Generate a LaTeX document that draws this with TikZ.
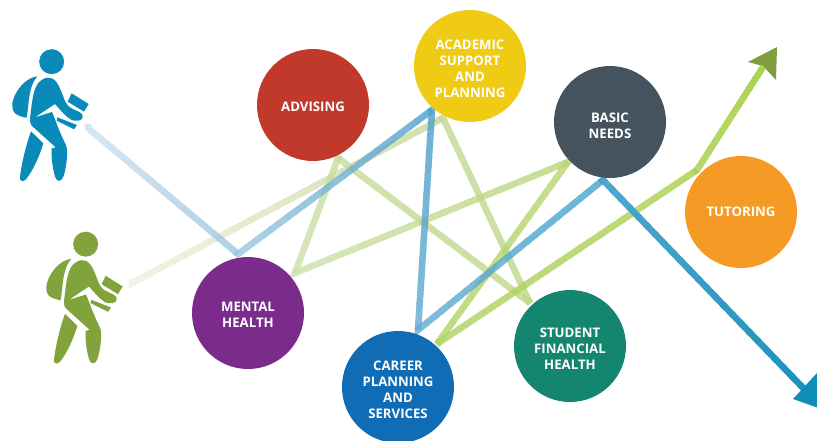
\documentclass[tikz,border=0pt]{standalone}
\usepackage{fontspec}
\setmainfont{Open Sans}
\usetikzlibrary{calc}
\definecolor{cRed}{HTML}{C0392B}
\definecolor{cYel}{HTML}{F0CB13}
\definecolor{cSla}{HTML}{44535E}
\definecolor{cOra}{HTML}{F59B25}
\definecolor{cPur}{HTML}{7B2B8C}
\definecolor{cBlu}{HTML}{0F6CB5}
\definecolor{cTea}{HTML}{14866F}
\definecolor{walkB}{HTML}{0A8AB8}
\definecolor{walkG}{HTML}{81A33C}
\definecolor{tipG}{HTML}{7F9F3F}
\tikzset{
  topic/.style={circle,minimum size=112pt,inner sep=0pt},
  topictext/.style={text=white,align=center,inner sep=0pt,
    font=\bfseries\fontsize{13.2}{16}\selectfont},
  pathline/.style={line width=6.5pt,line cap=butt},
}
\newcommand{\walker}[3]{%
  \begin{scope}[shift={(#2,#3)},x=.3333pt,y=-.3333pt,fill=#1]
    \fill (155,95) circle[radius=12.5pt];
    \fill (112,139) .. controls (85,142) and (60,165) .. (45,195) .. controls (35,215) and (33,240) .. (45,250) .. controls (55,258) and (70,262) .. (80,263) .. controls (85,235) and (85,200) .. (95,170) .. controls (100,155) and (105,147) .. (112,139) -- cycle;
    \fill (145,143) .. controls (165,143) and (175,160) .. (190,200) .. controls (197,222) and (205,232) .. (225,240) .. controls (240,246) and (250,252) .. (248,262) .. controls (246,272) and (230,275) .. (215,270) .. controls (200,262) and (185,245) .. (165,222) -- (105,262) -- (156,246) .. controls (165,265) and (175,300) .. (198,345) .. controls (206,365) and (198,420) .. (190,440) .. controls (185,455) and (170,458) .. (165,440) .. controls (157,410) and (153,380) .. (155,355) -- (167,352) -- (95,287) .. controls (88,278) and (90,265) .. (92,250) .. controls (97,210) and (100,165) .. (125,150) .. controls (132,145) and (138,143) .. (145,143) -- cycle;
    \fill (93,304) -- (130,340) .. controls (118,380) and (100,420) .. (78,448) .. controls (70,456) and (58,455) .. (60,440) .. controls (65,400) and (78,345) .. (93,304) -- cycle;
    \fill (215,190) -- (266,222) -- (252,245) -- (203,215) -- cycle;
    \fill (172,262) -- (231,285) -- (222,298) -- (170,272) -- cycle;
  \end{scope}}
% #1 previous point, #2 from, #3 to, #4 start colour, #5 end colour, #6 opacity
\newcommand{\lineseg}[6]{%
  \begin{scope}[opacity=#6,transparency group]
    \foreach \k in {1,...,24}{
      \pgfmathsetmacro\ta{(\k-1)/24}
      \pgfmathsetmacro\tb{min(1,(\k+.3)/24)}
      \pgfmathsetmacro\pc{100*(\k-.5)/24}
      \draw[pathline,color={#5!\pc!#4}] ($(#2)!\ta!(#3)$) -- ($(#2)!\tb!(#3)$);
    }
    \draw[pathline,miter limit=4,color=#4] ($(#2)!4pt!(#1)$) -- (#2) -- ($(#2)!4pt!(#3)$);
  \end{scope}}
\begin{document}
\begin{tikzpicture}[x=1pt,y=-1pt]
\useasboundingbox (0,0) rectangle (817,440);
\clip (0,0) rectangle (817,440);
\fill[white] (0,0) rectangle (817,440);

\coordinate (g0) at (132,283);
\coordinate (g1) at (443,118);
\coordinate (g2) at (530,303);
\coordinate (g3) at (338,158);
\coordinate (g4) at (295,273);
\coordinate (g5) at (568,162);
\coordinate (g6) at (437,344);
\coordinate (g7) at (697,170);
\coordinate (g8) at (763,67);
\coordinate (b0) at (88,128);
\coordinate (b1) at (238,254);
\coordinate (b2) at (432,110);
\coordinate (b3) at (418,330);
\coordinate (b4) at (603,180);
\coordinate (b5) at (808,393);

\definecolor{g0c}{HTML}{EEF1E0}
\definecolor{g1c}{HTML}{C3D896}
\definecolor{g2c}{HTML}{BED788}
\definecolor{g3c}{HTML}{C8DC9C}
\definecolor{g4c}{HTML}{CEE0AB}
\definecolor{g5c}{HTML}{B8D677}
\definecolor{g6c}{HTML}{B0D363}
\definecolor{g7c}{HTML}{A8D04A}
\definecolor{g8c}{HTML}{97C827}
\definecolor{b0c}{HTML}{CCE1ED}
\definecolor{b1c}{HTML}{9BC7E0}
\definecolor{b2c}{HTML}{4B9FCA}
\definecolor{b3c}{HTML}{60ABD1}
\definecolor{b4c}{HTML}{46A3CB}
\definecolor{b5c}{HTML}{0E8DB9}

\lineseg{g0}{g0}{g1}{g0c}{g1c}{.8}
\lineseg{g0}{g1}{g2}{g1c}{g2c}{.8}
\lineseg{g1}{g2}{g3}{g2c}{g3c}{.8}
\lineseg{g2}{g3}{g4}{g3c}{g4c}{.8}
\lineseg{g3}{g4}{g5}{g4c}{g5c}{.8}
\lineseg{g4}{g5}{g6}{g5c}{g6c}{.8}
\lineseg{g5}{g6}{g7}{g6c}{g7c}{.8}
\lineseg{g6}{g7}{g8}{g7c}{g8c}{.8}
\lineseg{b0}{b0}{b1}{b0c}{b1c}{.8}
\lineseg{b0}{b1}{b2}{b1c}{b2c}{.8}
\lineseg{b1}{b2}{b3}{b2c}{b3c}{.8}
\lineseg{b2}{b3}{b4}{b3c}{b4c}{.8}
\lineseg{b3}{b4}{b5}{b4c}{b5c}{.95}
\fill[color={rgb,255:red,241;green,244;blue,230}] (g0) circle[radius=3.25pt];
\fill[color={rgb,255:red,214;green,231;blue,241}] (b0) circle[radius=3.25pt];

\fill[tipG] (748,62) -- (777,47) -- (776,80) -- (763,66) -- cycle;
\fill[b5c] (793,399) -- (817,373) -- (830,412) -- cycle;

\walker{walkB}{0}{30}
\walker{walkG}{34}{212.5}

\node[topic,fill=cRed,label={[topictext,yshift=-1.5pt]center:ADVISING}] (advising) at (313,105) {};
\node[topic,fill=cYel,label={[topictext,yshift=-3pt]center:ACADEMIC\\SUPPORT\\AND\\PLANNING}] (academic) at (470,66) {};
\node[topic,fill=cSla,label={[topictext,yshift=-4pt]center:BASIC\\NEEDS}] (basic) at (610,122) {};
\node[topic,fill=cOra,label={[topictext,yshift=0pt]center:TUTORING}] (tutoring) at (741,212) {};
\node[topic,fill=cPur,label={[topictext,yshift=-2pt]center:MENTAL\\HEALTH}] (mental) at (248,313) {};
\node[topic,fill=cBlu,label={[topictext,yshift=-2.5pt]center:CAREER\\PLANNING\\AND\\SERVICES}] (career) at (398,387) {};
\node[topic,fill=cTea,label={[topictext,yshift=-3pt]center:STUDENT\\FINANCIAL\\HEALTH}] (student) at (570,346) {};
\end{tikzpicture}
\end{document}
